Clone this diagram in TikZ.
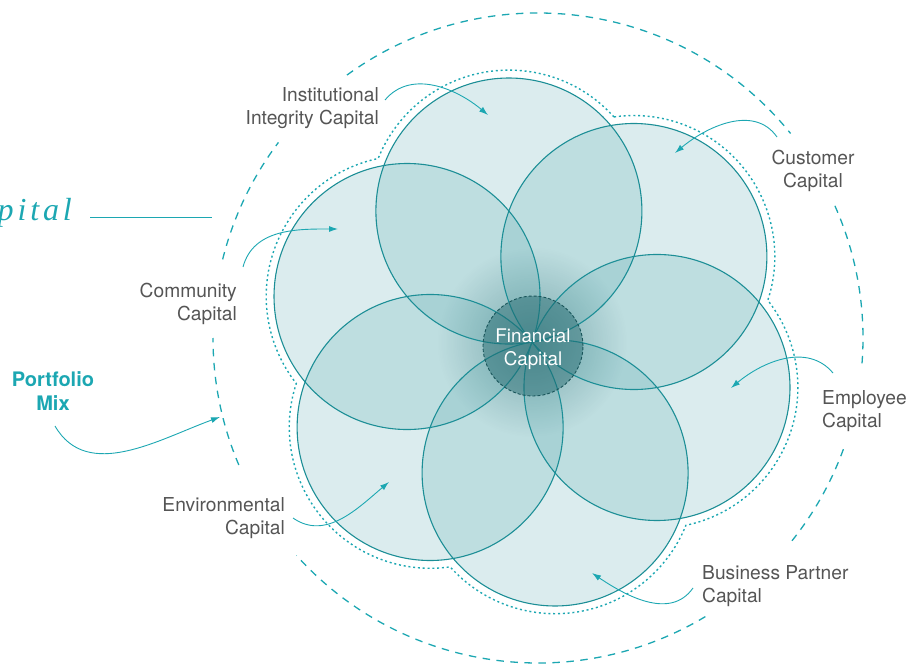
\documentclass[tikz,border=0pt]{standalone}
\usepackage{fontspec}
\setmainfont{TeX Gyre Heros}
\newfontfamily\titlefont[LetterSpace=12]{Liberation Serif}
\usetikzlibrary{arrows.meta,fadings}

\definecolor{lineteal}{HTML}{1CA7B2}
\definecolor{edgeteal}{HTML}{1C8E96}
\definecolor{discin}{HTML}{5AAAB0}
\definecolor{discout}{HTML}{1A7A82}
\definecolor{coreteal}{HTML}{1D646A}
\definecolor{labelgray}{HTML}{555555}

\pgfdeclareradialshading{disc}{\pgfpoint{0bp}{0bp}}{color(0bp)=(discin); color(32bp)=(discin); color(50bp)=(discout); color(100bp)=(discout)}
\tikzfading[name=glow, inner color=transparent!0, outer color=transparent!100]

\tikzset{
	capital/.style={font=\fontsize{19.2}{23.8}\selectfont, text=labelgray, inner sep=0pt},
	pointer/.style={draw=lineteal, line width=0.9pt, -{Latex[length=9pt,width=6pt]}},
	ring/.style={draw=lineteal, line width=1.3pt, dash pattern=on 7.5pt off 6.5pt},
	hull/.style={draw=lineteal, line width=1.4pt, dash pattern=on 2pt off 2.8pt},
	petal/.style={shading=disc, fill opacity=0.22},
	petaledge/.style={draw=edgeteal, line width=1.1pt},
}

\begin{document}
\begin{tikzpicture}[x=1pt,y=1pt]
	\useasboundingbox (0,0) rectangle (910,665);
	\coordinate (O) at (532,323);
	\coordinate (ring) at (538,327);

	\foreach \a in {100,40,-20,-80,-140,160} {
		\shade[petal] (O) ++(\a:133) circle (133);
	}
	\fill[coreteal, fill opacity=0.42, path fading=glow] (O) circle (95);
	\foreach \a in {100,40,-20,-80,-140,160} {
		\draw[petaledge] (O) ++(\a:133) circle (133);
	}

	\draw[hull] (O) ++(70:239.5) \foreach \a in {100,160,...,400} { arc[start angle=\a-58.1, end angle=\a+58.1, radius=141] } -- cycle;

	\foreach \s/\e in {126/39, 24/-5, -20/-39, -59/-138, -157/-180, 166/143} {
		\draw[ring] (ring) ++(\s:325) arc[start angle=\s, end angle=\e, radius=325];
	}

	\node[circle, minimum size=100pt, draw=coreteal!85!black, line width=0.9pt, dash pattern=on 3pt off 2pt, fill=coreteal, fill opacity=0.45, inner sep=0pt] (fin) at (533,319) {};
	\node[text=white, align=center, font=\fontsize{18.8}{23.5}\selectfont, inner sep=0pt] (fintext) at (533,316) {Financial\\Capital};

	\node[capital, anchor=east, align=right] (inst) at (379,557) {Institutional\\Integrity Capital};
	\node[capital, align=center] (cust) at (813,494) {Customer\\Capital};
	\node[capital, anchor=west, align=left] (empl) at (822,254) {Employee\\Capital};
	\node[capital, anchor=west, align=left] (bizp) at (702,79) {Business Partner\\Capital};
	\node[capital, anchor=east, align=right] (envi) at (285,147) {Environmental\\Capital};
	\node[capital, anchor=east, align=right] (comm) at (237,361) {Community\\Capital};
	\node[font=\bfseries\fontsize{20}{23.5}\selectfont, text=lineteal, align=center, inner sep=0pt] (mix) at (53,274) {Portfolio\\Mix};
	\node[font=\titlefont\itshape\fontsize{32}{32}\selectfont, text=lineteal, anchor=base east, inner sep=0pt] (title) at (72,444) {Capital};

	\coordinate (rule) at (212,447);
	\draw[lineteal, line width=1pt] ([shift={(18,3)}]title.base east) -- (rule);

	\coordinate (inst-tip) at (488,550);
	\coordinate (cust-tip) at (675,512);
	\coordinate (empl-tip) at (731,277);
	\coordinate (bizp-tip) at (592,92);
	\coordinate (envi-tip) at (389,183);
	\coordinate (comm-tip) at (338,436);
	\coordinate (mix-tip) at (220,248);

	\draw[pointer] ([shift={(6,8)}]inst.east) to[out=50,in=140] (inst-tip);
	\draw[pointer] ([shift={(-36,34)}]cust.center) to[out=125,in=40] (cust-tip);
	\draw[pointer] ([shift={(11,38)}]empl.west) to[out=130,in=40] (empl-tip);
	\draw[pointer] ([shift={(-9,-2)}]bizp.west) to[out=-125,in=-34] (bizp-tip);
	\draw[pointer] ([shift={(8,0)}]envi.east) to[out=-35,in=220] (envi-tip);
	\draw[pointer] ([shift={(6,37)}]comm.east) to[out=75,in=180] (comm-tip);
	\draw[pointer] ([shift={(2,-35)}]mix.center) to[out=-60,in=200] (mix-tip);
\end{tikzpicture}
\end{document}
